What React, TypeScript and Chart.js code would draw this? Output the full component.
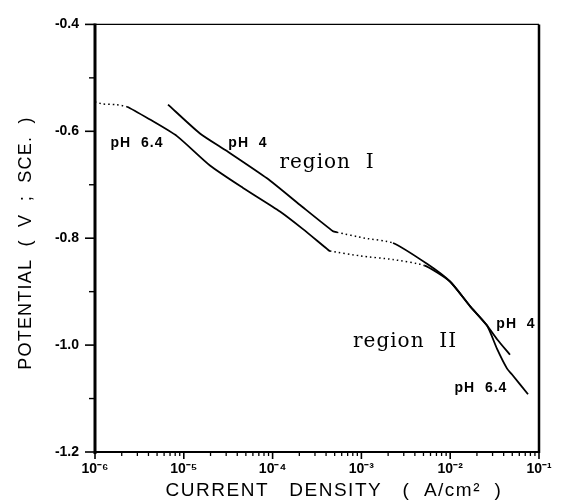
import React, { useEffect, useRef } from "react";
import { Chart, registerables } from "chart.js";

Chart.register(...registerables);

// ---- axis ticks ----
const xDecades = [1e-6, 1e-5, 1e-4, 1e-3, 1e-2, 1e-1];
const xTickLabels = ["10⁻⁶", "10⁻⁵", "10⁻⁴", "10⁻³", "10⁻²", "10⁻¹"];
const xMinorMultipliers = [2, 3, 4, 5, 6, 7, 8, 9];
const yTicks = [-1.2, -1.0, -0.8, -0.6, -0.4];
const yMinorTicks = [-1.1, -0.9, -0.7, -0.5];

// ---- pH 6.4 curve ----
const ph64Current = [
  1.0e-6, 1.23e-6, 1.68e-6, 2.29e-6, 4.16e-6, 8.38e-6, 1.97e-5, 4.65e-5, 1.21e-4,
  2.2e-4, 4.1e-4, 4.43e-4, 9.64e-4, 2.27e-3, 5.1e-3, 9.95e-3, 1.67e-2, 2.59e-2,
  3.37e-2, 4.37e-2, 4.97e-2, 7.52e-2,
];
const ph64Potential = [
  -0.545, -0.549, -0.55, -0.554, -0.578, -0.609, -0.664, -0.706, -0.75,
  -0.783, -0.82, -0.824, -0.833, -0.84, -0.851, -0.881, -0.927, -0.963,
  -1.007, -1.044, -1.055, -1.092,
];
const ph64DottedSegments = [0, 1, 2, 11, 12, 13];

// ---- pH 4 curve ----
const ph4Current = [
  6.64e-6, 1.52e-5, 3.06e-5, 8.65e-5, 2.04e-4, 4.79e-4, 5.31e-4, 1.1e-3, 2.27e-3,
  5.48e-3, 9.95e-3, 1.67e-2, 2.59e-2, 3.37e-2, 4.71e-2,
];
const ph4Potential = [
  -0.55, -0.604, -0.637, -0.688, -0.738, -0.787, -0.789, -0.8, -0.809,
  -0.848, -0.881, -0.927, -0.963, -0.989, -1.018,
];
const ph4DottedSegments = [6, 7];

// ---- in-plot labels (anchored in data units) ----
const noteTexts = ["pH 6.4", "pH 4", "region I", "region II", "pH 4", "pH 6.4"];
const noteCurrent = [2.97e-6, 5.28e-5, 4.1e-4, 3.1e-3, 5.5e-2, 2.22e-2];
const notePotential = [-0.622, -0.622, -0.659, -0.994, -0.961, -1.081];
const noteIsRegion = [false, false, true, true, false, false];

const xTitle = "CURRENT   DENSITY   (  A/cm²  )";
const yTitle = "POTENTIAL  (  V  ;  SCE.  )";

const SANS = "'Liberation Sans', Arial, Helvetica, sans-serif";

const decorPlugin = {
  id: "decor",
  afterDraw(chart: any) {
    const { ctx, chartArea, scales } = chart;
    const { left, right, top, bottom } = chartArea;
    const x = scales.x;
    const y = scales.y;
    ctx.save();
    ctx.strokeStyle = "#000";
    ctx.fillStyle = "#000";
    const line = (x1: number, y1: number, x2: number, y2: number, w: number) => {
      ctx.lineWidth = w;
      ctx.beginPath();
      ctx.moveTo(x1, y1);
      ctx.lineTo(x2, y2);
      ctx.stroke();
    };
    // frame
    line(left, top - 1, left, bottom + 2, 3);
    line(left - 1, bottom, right + 1, bottom, 2);
    line(right, top, right, bottom + 1, 2.5);
    line(left, top, right, top, 1.3);

    // y ticks (outward)
    yTicks.forEach((v) => {
      const py = y.getPixelForValue(v);
      line(left - 10, py, left, py, 1.6);
    });
    yMinorTicks.forEach((v) => {
      const py = y.getPixelForValue(v);
      line(left - 6, py, left, py, 1.4);
    });
    // x ticks (outward, below axis)
    xDecades.forEach((d, i) => {
      const px = x.getPixelForValue(d);
      line(px, bottom, px, bottom + 7, 1.6);
      if (i < xDecades.length - 1) {
        xMinorMultipliers.forEach((m) => {
          const pm = x.getPixelForValue(d * m);
          line(pm, bottom, pm, bottom + 4, 1.3);
        });
      }
    });

    // in-plot labels
    ctx.textAlign = "center";
    ctx.textBaseline = "middle";
    noteTexts.forEach((t, i) => {
      const px = x.getPixelForValue(noteCurrent[i]);
      const py = y.getPixelForValue(notePotential[i]);
      if (noteIsRegion[i]) {
        ctx.font = "20px 'DejaVu Serif', 'Liberation Serif', serif";
        (ctx as any).letterSpacing = "1px";
      } else {
        ctx.font = "bold 14px " + SANS;
        (ctx as any).letterSpacing = "1px";
      }
      ctx.fillText(t.replace(" ", "  "), px, py);
    });

    // axis titles
    ctx.textBaseline = "alphabetic";
    ctx.textAlign = "center";
    (ctx as any).letterSpacing = "1.5px";
    ctx.font = "19px " + SANS;
    ctx.fillText(xTitle, 334, 496);
    (ctx as any).letterSpacing = "1.2px";
    ctx.font = "18px " + SANS;
    ctx.save();
    ctx.translate(31, 243);
    ctx.rotate(-Math.PI / 2);
    ctx.fillText(yTitle, 0, 0);
    ctx.restore();
    (ctx as any).letterSpacing = "0px";
    ctx.restore();
  },
};

export default function App() {
  const ref = useRef<HTMLCanvasElement | null>(null);
  useEffect(() => {
    document.body.style.margin = "0";
    const canvas = ref.current;
    if (!canvas) return;
    const toPts = (xs: number[], ys: number[]) => xs.map((v, i) => ({ x: v, y: ys[i] }));
    const chart = new Chart(canvas, {
      type: "line",
      data: {
        datasets: [
          {
            label: "pH 6.4",
            data: toPts(ph64Current, ph64Potential),
            borderColor: "#000",
            borderWidth: 1.8,
            pointRadius: 0,
            tension: 0.2,
            segment: {
              borderDash: (c: any) => (ph64DottedSegments.includes(c.p0DataIndex) ? [1.5, 3] : undefined),
              borderWidth: (c: any) => (ph64DottedSegments.includes(c.p0DataIndex) ? 1.5 : undefined),
            },
          } as any,
          {
            label: "pH 4",
            data: toPts(ph4Current, ph4Potential),
            borderColor: "#000",
            borderWidth: 1.8,
            pointRadius: 0,
            tension: 0.2,
            segment: {
              borderDash: (c: any) => (ph4DottedSegments.includes(c.p0DataIndex) ? [1.5, 3] : undefined),
              borderWidth: (c: any) => (ph4DottedSegments.includes(c.p0DataIndex) ? 1.5 : undefined),
            },
          } as any,
        ],
      },
      options: {
        responsive: false,
        animation: false,
        devicePixelRatio: 1,
        layout: { padding: { top: 16, right: 23, left: 0, bottom: 0 } },
        plugins: { legend: { display: false }, tooltip: { enabled: false } },
        scales: {
          x: {
            type: "logarithmic",
            min: 1e-6,
            max: 1e-1,
            border: { display: false },
            grid: { display: false, drawTicks: false },
            afterBuildTicks: (s: any) => {
              s.ticks = xDecades.map((v) => ({ value: v }));
            },
            afterFit: (s: any) => {
              s.height = 48;
            },
            ticks: {
              autoSkip: false,
              maxRotation: 0,
              padding: 9,
              color: "#000",
              font: { family: SANS, size: 14, weight: "bold" },
              callback: (_v: any, i: number) => xTickLabels[i],
            },
          },
          y: {
            type: "linear",
            min: -1.2,
            max: -0.4,
            border: { display: false },
            grid: { display: false, drawTicks: false },
            afterBuildTicks: (s: any) => {
              s.ticks = yTicks.map((v) => ({ value: v }));
            },
            afterFit: (s: any) => {
              s.width = 95;
            },
            ticks: {
              padding: 16,
              color: "#000",
              font: { family: SANS, size: 14, weight: "bold" },
              callback: (v: any) => Number(v).toFixed(1),
            },
          },
        },
      } as any,
      plugins: [decorPlugin],
    });
    return () => chart.destroy();
  }, []);
  return (
    <div style={{ width: 562, height: 500, background: "#fff" }}>
      <canvas ref={ref} width={562} height={500} style={{ display: "block" }} />
    </div>
  );
}
